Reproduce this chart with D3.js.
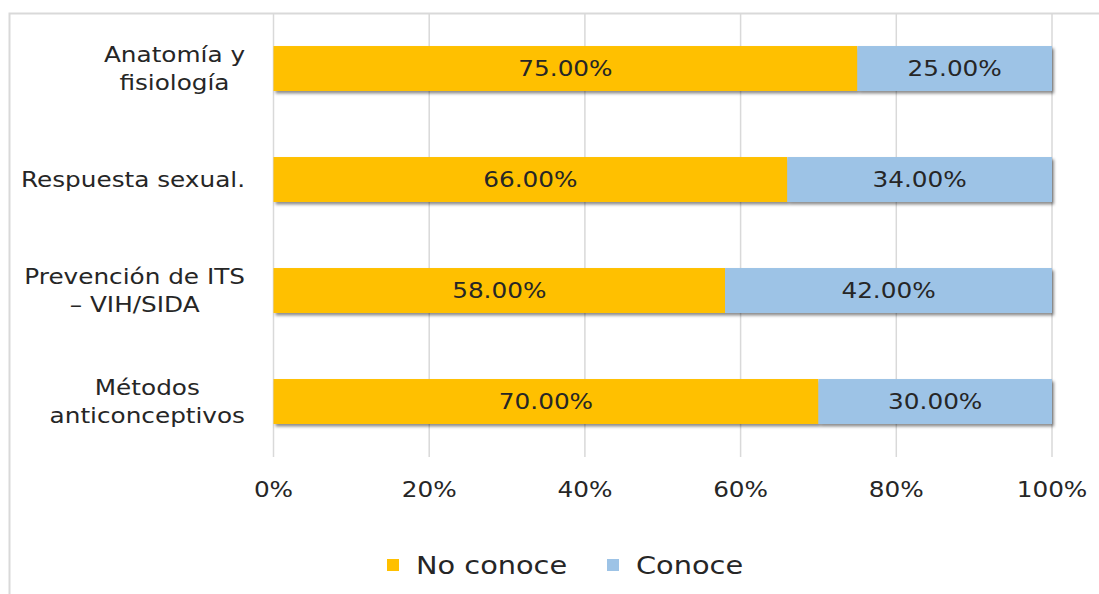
<!DOCTYPE html>
<html><head><meta charset="utf-8">
<script src="https://cdn.jsdelivr.net/npm/d3@7"></script>
<style>body{margin:0;background:#fff;} svg{display:block;font-family:"DejaVu Sans",Verdana,sans-serif;}</style>
</head><body>
<svg id="c" width="1099" height="594"></svg>
<script>
const categories = [["Anatomía y","fisiología"],["Respuesta sexual."],["Prevención de ITS","– VIH/SIDA"],["Métodos","anticonceptivos"]];
const categoryKeys = ["Anatomía y fisiología","Respuesta sexual.","Prevención de ITS – VIH/SIDA","Métodos anticonceptivos"];
const noConoce = [75, 66, 58, 70];
const conoce = [25, 34, 42, 30];
const seriesNames = ["No conoce","Conoce"];
const seriesColors = ["#FFC000","#9DC3E6"];
const xTicks = [0,20,40,60,80,100];

const SX = 1.15;
const svg = d3.select("#c");
const defs = svg.append("defs");
const f = defs.append("filter").attr("id","sh").attr("x","-5%").attr("y","-20%").attr("width","110%").attr("height","160%");
f.append("feDropShadow").attr("dx",2).attr("dy",2.5).attr("stdDeviation",1.6).attr("flood-color","#000").attr("flood-opacity",0.45);

function label(parent, x, y, s, size, anchor, sx){
  return parent.append("text").attr("transform",`translate(${x},${y}) scale(${sx||SX},1)`)
    .attr("text-anchor",anchor||"middle").attr("dominant-baseline","central")
    .attr("font-size",size).attr("fill","#262626").text(s);
}

// chart border
svg.append("rect").attr("x",9.5).attr("y",13.5).attr("width",1200).attr("height",700)
  .attr("fill","none").attr("stroke","#d9d9d9").attr("stroke-width",2);

const x = d3.scaleLinear().domain([0,100]).range([273.5,1052]);
const y = d3.scaleBand().domain(categoryKeys).range([13,457]).paddingInner(0.595).paddingOuter(0.2975);

// gridlines
svg.append("g").selectAll("line").data(xTicks).join("line")
  .attr("x1",d=>x(d)).attr("x2",d=>x(d)).attr("y1",14).attr("y2",457)
  .attr("stroke","#d9d9d9").attr("stroke-width",1.5);

// tick labels
const tk = svg.append("g");
xTicks.forEach(d=>label(tk, x(d), 490, d+"%", 21.5));

const rows = categoryKeys.map((k,i)=>({k, a:noConoce[i], b:conoce[i], lines:categories[i]}));

const g = svg.append("g");
rows.forEach(r=>{
  const gg = g.append("g").attr("filter","url(#sh)");
  gg.append("rect").attr("x",x(0)).attr("y",y(r.k)).attr("width",x(r.a)-x(0)).attr("height",y.bandwidth()).attr("fill",seriesColors[0]);
  gg.append("rect").attr("x",x(r.a)).attr("y",y(r.k)).attr("width",x(r.a+r.b)-x(r.a)).attr("height",y.bandwidth()).attr("fill",seriesColors[1]);
});
rows.forEach(r=>{
  const cy = y(r.k)+y.bandwidth()/2;
  label(g, (x(0)+x(r.a))/2, cy, r.a.toFixed(2)+"%", 21.5);
  label(g, (x(r.a)+x(r.a+r.b))/2, cy, r.b.toFixed(2)+"%", 21.5);
});

// category labels: right-aligned block, centered lines
const lab = svg.append("g");
rows.forEach(r=>{
  const cy = y(r.k)+y.bandwidth()/2;
  const lh = 28.5;
  const n = r.lines.length;
  const texts = r.lines.map((s,j)=>label(lab, 0, cy+(j-(n-1)/2)*lh, s, 21.5));
  const w = d3.max(texts.map(tx=>tx.node().getComputedTextLength()))*SX;
  const right = 245;
  texts.forEach((tx,j)=>tx.attr("transform",`translate(${right - w/2},${cy+(j-(n-1)/2)*lh}) scale(${SX},1)`));
});

// legend
const leg = svg.append("g");
const legX = [387, 607];
seriesNames.forEach((s,i)=>{
  leg.append("rect").attr("x",legX[i]).attr("y",559).attr("width",12).attr("height",12).attr("fill",seriesColors[i]);
  label(leg, legX[i]+29, 565, s, 24, "start", 1.2);
});
</script>
</body></html>
